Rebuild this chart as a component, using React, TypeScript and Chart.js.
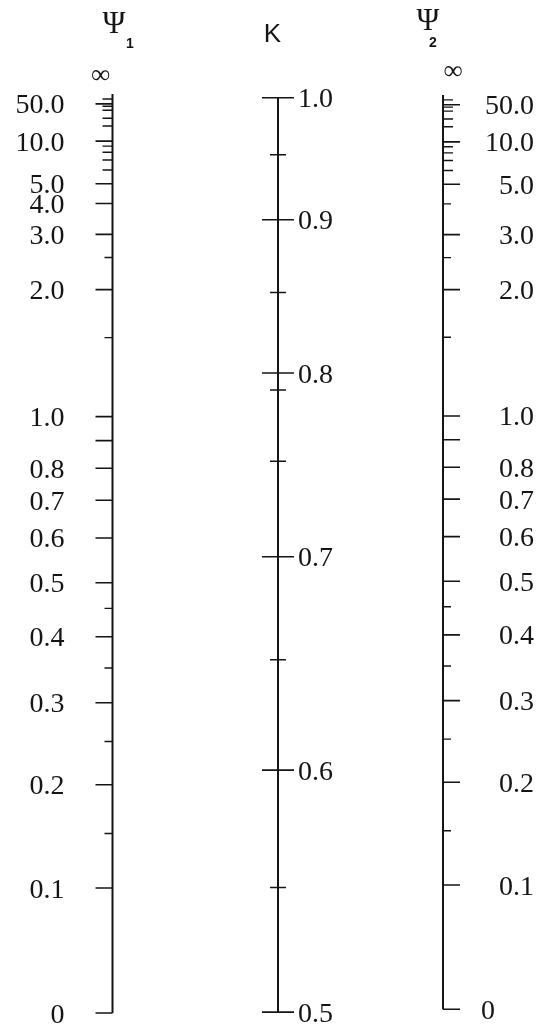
import React, { useEffect, useRef } from "react";
import { Chart, registerables, LinearScale } from "chart.js";

Chart.register(...registerables);

// ---------------- data ----------------
const PSI_RANGE = [0, Infinity];
const K_RANGE = [0.5, 1.0];

const PSI1_MAJOR = [0, 0.1, 0.2, 0.3, 0.4, 0.5, 0.6, 0.7, 0.8, 0.9, 1.0, 2.0, 3.0, 4.0, 5.0, 10.0, 50.0];
const PSI1_MID = [6, 7, 8, 9, 15, 20, 30, 40, 100];
const PSI1_MINOR = [0.15, 0.25, 0.35, 0.45, 1.5, 2.5];
const PSI1_LABELS = [0, 0.1, 0.2, 0.3, 0.4, 0.5, 0.6, 0.7, 0.8, 1.0, 2.0, 3.0, 4.0, 5.0, 10.0, 50.0];

const PSI2_MAJOR = [0, 0.1, 0.2, 0.3, 0.4, 0.5, 0.6, 0.7, 0.8, 0.9, 1.0, 2.0, 3.0, 5.0, 10.0, 50.0];
const PSI2_MID = [6, 7, 8, 9, 15, 20, 30, 40, 100];
const PSI2_MINOR = [0.15, 0.25, 0.35, 0.45, 1.5, 2.5, 4.0];
const PSI2_LABELS = [0, 0.1, 0.2, 0.3, 0.4, 0.5, 0.6, 0.7, 0.8, 1.0, 2.0, 3.0, 5.0, 10.0, 50.0];

const K_MAJOR = [0.5, 0.6, 0.7, 0.8, 0.9, 1.0];
const K_MINOR = [0.55, 0.65, 0.75, 0.79, 0.85, 0.95];
const K_LABELS = [0.5, 0.6, 0.7, 0.8, 0.9, 1.0];

const PSI_SYMBOL = "\u03A8";
const INFINITY_LABEL = "\u221E";
const TITLE_PSI1_SUB = "1";
const TITLE_PSI2_SUB = "2";
const TITLE_K = "K";

// ---------------- layout / style ----------------
const AXIS_X = { psi1: 112.5, k: 278, psi2: 443 };
const PSI_TICK = { long: 17, mid: 10, short: 8 };
const K_TICK = { major: 16, minor: 8 };
const INK = "#151515";
const SERIF = '"Liberation Serif", "Times New Roman", serif';
const SANS = '"Liberation Sans", Arial, sans-serif';

// ---------------- nomograph scales ----------------
const psiUnit = (g: number) => {
  if (g === Infinity) return 1;
  if (!(g > 0)) return 0;
  const p = g < 1 ? 1.07 : 1.0;
  return 1 / (1 + 0.541 * Math.pow(g, -p));
};
const kUnit = (k: number) => {
  const u = (k - 0.5) / 0.5;
  return 1.4 * u - 0.38 * u * u - 0.02 * u * u * u;
};

class NomoScale extends (LinearScale as any) {
  static id = "nomo";
  static defaults = {};
  parse(raw: any, index: number) {
    if (raw === Infinity) return Infinity;
    return super.parse(raw, index);
  }
  unit(v: number) {
    return v;
  }
  getPixelForValue(value: number) {
    const o: any = this.options;
    const d = o.lo + this.unit(value) * (o.hi - o.lo);
    return this.getPixelForDecimal(d);
  }
}
class PsiScale extends NomoScale {
  static id = "psi";
  static defaults = {};
  unit(v: number) {
    return psiUnit(v);
  }
}
class KScale extends NomoScale {
  static id = "kscale";
  static defaults = {};
  unit(v: number) {
    return kUnit(v);
  }
}
Chart.register(NomoScale as any, PsiScale as any, KScale as any);

const segs = (values: number[], x0: number, x1: number) => {
  const pts: any[] = [];
  values.forEach((v) => {
    pts.push({ x: x0, y: v }, { x: x1, y: v }, { x: null, y: null });
  });
  return pts;
};

const fmt = (v: number) => (v === 0 ? "0" : v.toFixed(1));

const textPlugin = {
  id: "nomoText",
  afterDatasetsDraw(chart: any) {
    const { ctx, scales } = chart;
    const X = (v: number) => scales.x.getPixelForValue(v);
    const lab = 28;
    const half = lab * 0.34;
    ctx.save();
    ctx.fillStyle = INK;
    ctx.textBaseline = "alphabetic";
    ctx.font = `${lab}px ${SERIF}`;

    // Psi 1 labels (left side, right aligned)
    ctx.textAlign = "right";
    PSI1_LABELS.forEach((v) => {
      ctx.fillText(fmt(v), X(AXIS_X.psi1 - 48), scales.psi1.getPixelForValue(v) + half);
    });
    // Psi 2 labels (right side, right aligned; zero near the axis)
    PSI2_LABELS.forEach((v) => {
      const y = scales.psi2.getPixelForValue(v) + half;
      if (v === 0) {
        ctx.textAlign = "left";
        ctx.fillText(fmt(v), X(AXIS_X.psi2 + 38), y);
      } else {
        ctx.textAlign = "right";
        ctx.fillText(fmt(v), X(AXIS_X.psi2 + 91), y);
      }
    });
    // K labels
    ctx.textAlign = "left";
    K_LABELS.forEach((v) => {
      ctx.fillText(fmt(v), X(AXIS_X.k + 20), scales.k.getPixelForValue(v) + half);
    });

    // infinity marks
    ctx.font = `27px ${SERIF}`;
    ctx.textAlign = "center";
    ctx.fillText(INFINITY_LABEL, X(AXIS_X.psi1 - 12), scales.psi1.getPixelForValue(PSI_RANGE[1]) - 11);
    ctx.fillText(INFINITY_LABEL, X(AXIS_X.psi2 + 10), scales.psi2.getPixelForValue(PSI_RANGE[1]) - 16);

    // titles
    ctx.font = `31px ${SERIF}`;
    ctx.fillText(PSI_SYMBOL, X(AXIS_X.psi1 + 1.5), 33);
    ctx.fillText(PSI_SYMBOL, X(AXIS_X.psi2 - 15), 30);
    ctx.font = `bold 14px ${SANS}`;
    ctx.fillText(TITLE_PSI1_SUB, X(AXIS_X.psi1 + 17.5), 48);
    ctx.fillText(TITLE_PSI2_SUB, X(AXIS_X.psi2 - 10), 47);
    ctx.font = `26px ${SANS}`;
    ctx.fillText(TITLE_K, X(AXIS_X.k - 5.5), 42);
    ctx.restore();
  },
};

export default function App() {
  const ref = useRef<HTMLCanvasElement>(null);
  useEffect(() => {
    document.body.style.margin = "0";
    const canvas = ref.current;
    if (!canvas) return;
    const base = {
      pointRadius: 0,
      borderColor: INK,
      fill: false,
      tension: 0,
      clip: false,
      spanGaps: false,
      xAxisID: "x",
    };
    const datasets: any[] = [
      // axis lines
      { ...base, yAxisID: "psi1", borderWidth: 2, data: PSI_RANGE.map((v) => ({ x: AXIS_X.psi1, y: v })) },
      { ...base, yAxisID: "psi2", borderWidth: 2, data: PSI_RANGE.map((v) => ({ x: AXIS_X.psi2, y: v })) },
      { ...base, yAxisID: "k", borderWidth: 2, data: K_RANGE.map((v) => ({ x: AXIS_X.k, y: v })) },
      // psi 1 ticks (to the left)
      { ...base, yAxisID: "psi1", borderWidth: 1.6, data: segs(PSI1_MAJOR, AXIS_X.psi1 - PSI_TICK.long, AXIS_X.psi1) },
      { ...base, yAxisID: "psi1", borderWidth: 1.4, data: segs(PSI1_MID, AXIS_X.psi1 - PSI_TICK.mid, AXIS_X.psi1) },
      { ...base, yAxisID: "psi1", borderWidth: 1.4, data: segs(PSI1_MINOR, AXIS_X.psi1 - PSI_TICK.short, AXIS_X.psi1) },
      // psi 2 ticks (to the right)
      { ...base, yAxisID: "psi2", borderWidth: 1.6, data: segs(PSI2_MAJOR, AXIS_X.psi2, AXIS_X.psi2 + PSI_TICK.long) },
      { ...base, yAxisID: "psi2", borderWidth: 1.4, data: segs(PSI2_MID, AXIS_X.psi2, AXIS_X.psi2 + PSI_TICK.mid) },
      { ...base, yAxisID: "psi2", borderWidth: 1.4, data: segs(PSI2_MINOR, AXIS_X.psi2, AXIS_X.psi2 + PSI_TICK.short) },
      // K ticks (both sides)
      { ...base, yAxisID: "k", borderWidth: 1.6, data: segs(K_MAJOR, AXIS_X.k - K_TICK.major, AXIS_X.k + K_TICK.major) },
      { ...base, yAxisID: "k", borderWidth: 1.5, data: segs(K_MINOR, AXIS_X.k - K_TICK.minor, AXIS_X.k + K_TICK.minor) },
    ];
    const chart = new Chart(canvas, {
      type: "line",
      data: { datasets },
      options: {
        animation: false,
        responsive: false,
        events: [],
        layout: { padding: { top: 94, bottom: 22, left: 0, right: 0 } },
        plugins: { legend: { display: false }, tooltip: { enabled: false }, title: { display: false } },
        scales: {
          x: { type: "linear", min: 0, max: 540, display: false },
          psi1: { type: "psi", axis: "y", position: "left", display: false, min: 0, max: 1, lo: 0, hi: 1 },
          psi2: { type: "psi", axis: "y", position: "left", display: false, min: 0, max: 1, lo: 0.004, hi: 0.999 },
          k: { type: "kscale", axis: "y", position: "left", display: false, min: 0, max: 1, lo: 0.001, hi: 0.996 },
        } as any,
      } as any,
      plugins: [textPlugin],
    });
    return () => chart.destroy();
  }, []);
  return <canvas ref={ref} width={540} height={1035} style={{ display: "block" }} />;
}
